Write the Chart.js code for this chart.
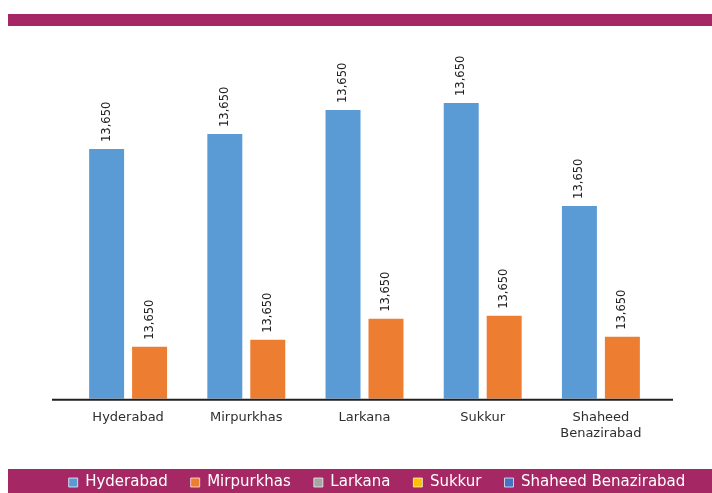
<!DOCTYPE html>
<html>
<head>
<meta charset="utf-8">
<title>Districts</title>
<script src="https://cdn.jsdelivr.net/npm/chart.js@4.4.1/dist/chart.umd.min.js"></script>
<style>
  html, body { margin: 0; padding: 0; background: #ffffff; }
  #wrap { width: 712px; height: 493px; }
</style>
</head>
<body>
<div id="wrap"><canvas id="districtChart" width="712" height="493"></canvas></div>
<script>
// categories along the x axis (also used for the legend entries)
const categories = ['Hyderabad', 'Mirpurkhas', 'Larkana', 'Sukkur', 'Shaheed Benazirabad'];

// two bar series
const seriesNames = ['Series 1', 'Series 2'];
const blueValues = [10000, 10600, 11560, 11840, 7720];
const orangeValues = [2080, 2360, 3200, 3320, 2480];

// text printed above each bar
const blueLabels = ['13,650', '13,650', '13,650', '13,650', '13,650'];
const orangeLabels = ['13,650', '13,650', '13,650', '13,650', '13,650'];

const legendColors = ['#5b9bd5', '#ed7d31', '#a5a5a5', '#ffc000', '#4472c4'];
const yMax = 14000;

const BAND = '#a52864';
const FONT = '"DejaVu Sans", sans-serif';

// magenta bands at top and bottom of the card
const bandsPlugin = {
    id: 'bands',
    beforeDraw(chart) {
        const ctx = chart.ctx;
        ctx.save();
        ctx.fillStyle = BAND;
        ctx.fillRect(8, 14, chart.width - 8, 12);
        ctx.fillRect(8, 469, chart.width - 8, chart.height - 469);
        ctx.restore();
    }
};

// dark baseline under the bars, a bit wider than the category area
const baselinePlugin = {
    id: 'baseline',
    afterDatasetsDraw(chart) {
        const ctx = chart.ctx;
        const area = chart.chartArea;
        const y = chart.scales.y.getPixelForValue(0) + 1;
        ctx.save();
        ctx.strokeStyle = '#231f20';
        ctx.lineWidth = 2;
        ctx.beginPath();
        ctx.moveTo(area.left - 17, y);
        ctx.lineTo(area.right + 13, y);
        ctx.stroke();
        ctx.restore();
    }
};

// rotated value labels above the bars
const valueLabelPlugin = {
    id: 'valueLabels',
    afterDatasetsDraw(chart) {
        const ctx = chart.ctx;
        ctx.save();
        ctx.font = '11.5px ' + FONT;
        ctx.fillStyle = '#222222';
        ctx.textAlign = 'left';
        ctx.textBaseline = 'middle';
        chart.data.datasets.forEach((ds, i) => {
            chart.getDatasetMeta(i).data.forEach((bar, j) => {
                ctx.save();
                ctx.translate(bar.x, bar.y - 7);
                ctx.rotate(-Math.PI / 2);
                ctx.fillText(ds.valueLabels[j], 0, 0);
                ctx.restore();
            });
        });
        ctx.restore();
    }
};

// hidden side axes only reserve room around the bars
const spacerAxis = (position, width) => ({
    type: 'linear',
    position: position,
    display: true,
    grid: { display: false, drawTicks: false },
    border: { display: false },
    ticks: { display: false },
    afterFit(scale) { scale.width = width; }
});

const ctx = document.getElementById('districtChart').getContext('2d');
const chart = new Chart(ctx, {
    type: 'bar',
    data: {
        labels: categories,
        datasets: [
            {
                label: seriesNames[0],
                data: blueValues,
                valueLabels: blueLabels,
                backgroundColor: legendColors[0],
                categoryPercentage: 0.727,
                barPercentage: 0.814
            },
            {
                label: seriesNames[1],
                data: orangeValues,
                valueLabels: orangeLabels,
                backgroundColor: legendColors[1],
                categoryPercentage: 0.727,
                barPercentage: 0.814
            }
        ]
    },
    options: {
        responsive: false,
        animation: false,
        devicePixelRatio: 1,
        layout: {
            padding: { top: 49, left: 42, right: 0, bottom: -7 }
        },
        scales: {
            x: {
                grid: { display: false, drawTicks: false },
                border: { display: false },
                ticks: {
                    color: '#2e2e2e',
                    font: { family: FONT, size: 13 },
                    padding: 11,
                    maxRotation: 0,
                    autoSkip: false,
                    callback: function (value) {
                        const name = this.getLabelForValue(value);
                        return name.length > 12 ? name.split(' ') : name;
                    }
                }
            },
            y: Object.assign(spacerAxis('left', 27), { min: 0, max: yMax }),
            yRight: spacerAxis('right', 52)
        },
        plugins: {
            tooltip: { enabled: false },
            legend: {
                position: 'bottom',
                onClick: null,
                labels: {
                    color: '#ffffff',
                    font: { family: FONT, size: 15 },
                    boxWidth: 9,
                    boxHeight: 9,
                    padding: 23,
                    generateLabels: () => categories.map((name, i) => ({
                        text: name,
                        fillStyle: legendColors[i],
                        strokeStyle: 'rgba(255,255,255,0.7)',
                        lineWidth: 1,
                        fontColor: '#ffffff',
                        hidden: false,
                        index: i
                    }))
                }
            }
        }
    },
    plugins: [bandsPlugin, baselinePlugin, valueLabelPlugin]
});
</script>
</body>
</html>
